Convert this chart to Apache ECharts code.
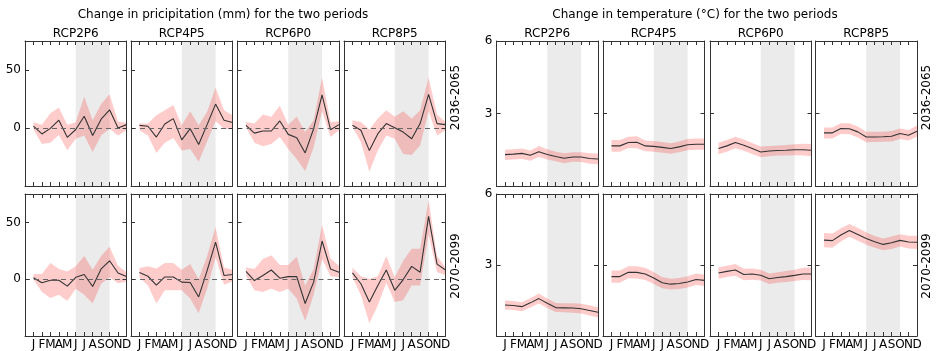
<!DOCTYPE html>
<html>
<head>
<meta charset="utf-8">
<script src="https://cdn.jsdelivr.net/npm/echarts@6/dist/echarts.min.js"></script>
<style>
  html, body { margin: 0; padding: 0; background: #fff; }
  #container { width: 937px; height: 351px; }
</style>
</head>
<body>
<div id="container"></div>
<script>
// month letters on the x axis, scenario names, periods
let monthLabels = ['J', 'F', 'M', 'A', 'M', 'J', 'J', 'A', 'S', 'O', 'N', 'D'];
let scenarios = ['RCP2P6', 'RCP4P5', 'RCP6P0', 'RCP8P5'];
let periods = ['2036-2065', '2070-2099'];
// months shaded in grey (Jun..Oct)
let shadeFrom = 6, shadeTo = 10;

// precipitation change (mm), one row per scenario
let prMean2036 = [
    [1.7, -5.1, -0.3, 6.7, -8.0, -1.3, 10.1, -6.4, 7.6, 15.7, 0, 2.9],
    [2.3, 1.5, -7.8, 3.5, 8.1, -10.2, -0.6, -14.2, 2.9, 20.6, 6.7, 4.7],
    [2.3, -4.4, -2.6, -2.6, 6.1, -5.5, -8.4, -21.5, -0.6, 28.5, -1.5, 2.9],
    [2.3, -2, -19.5, -4.9, 3.8, 0.3, -3.5, -9.3, 3.8, 29, 3.8, 2.9]
];
let prHi2036 = [
    [4.9, 2.9, 12.8, 17.6, 2.9, 4.9, 27, 6.7, 20.6, 29, 5.5, 4.5],
    [3.8, 3.8, 11, 15.4, 19.8, 2.3, 14.5, 2.3, 14, 34.9, 15.4, 11],
    [5.2, 3.8, 11.6, 9.6, 19.2, 2.9, 9.6, -3.5, 6.7, 43.6, 5.2, 5.8],
    [6.7, 5.2, -1.2, 8.1, 15.4, 9.6, 14.5, 8.1, 15.4, 43.6, 11.6, 5.2]
];
let prLo2036 = [
    [-1.2, -13.7, -12.8, -6.0, -19.2, -9.3, -6.4, -20.6, -6.4, -0.6, -6.5, -2.0],
    [-2, -6.4, -21.5, -12.8, -8.7, -19.5, -18, -29, -11.6, 5.8, -0.6, -0.6],
    [0.9, -12.8, -15.7, -13.7, -7.8, -18, -26.7, -37.2, -16.6, 14.5, -7.8, -2],
    [0.9, -12.2, -37.8, -19.5, -6.4, -9.3, -22.4, -23.3, -15.1, 14.5, -6.4, -2]
];
let prMean2070 = [
    [1.2, -3.2, -0.9, -0.9, -6.1, 1.7, 4.1, -6.4, 9, 16.2, 5.5, 2.3],
    [5.8, 2.6, -5.2, 2, 2, -2.6, -2.9, -15.6, 7.5, 32.7, 3.2, 4.1],
    [6.9, -1.2, 3.2, 8.1, 0.9, 2.3, 2.3, -21.4, -2.6, 33.6, 9, 6.1],
    [5.5, -4, -20, -5.5, 8.1, -9.8, -0.3, 11.3, 6.1, 55.3, 13.3, 8.1]
];
let prHi2070 = [
    [4.6, 4.6, 14.2, 9, 6.7, 11.3, 20.5, 8.4, 20.5, 28.6, 11.9, 6.1],
    [9.8, 11.3, 9.5, 14.2, 14.2, 8.4, 13.3, 0, 20.5, 46, 10.4, 8.4],
    [10.4, 9, 17.7, 21.1, 12.4, 12.4, 19.7, -5.5, 9, 48, 18.2, 11.9],
    [10.1, 2.6, 0.3, 2.6, 20.5, 1.7, 16.2, 26.9, 26.9, 69.7, 20.5, 10.4]
];
let prLo2070 = [
    [-0.3, -11.3, -16.5, -13.6, -19.1, -8.4, -13.6, -21.4, -4.1, 1.7, -3.5, -2],
    [1.7, -5.5, -21.4, -9.8, -9.8, -9.8, -17, -30, -8.4, 19.1, -4.9, -2],
    [3.2, -9.8, -11.3, -8.4, -11.3, -8.4, -17, -36.7, -13.6, 17.7, 2.6, 1.7],
    [1.7, -14.2, -38.8, -22.9, -3.2, -20, -18.5, -5.5, -5.5, 39.4, 6.1, 3.8]
];

// temperature change (degC)
let tMean2036 = [
    [1.30, 1.32, 1.35, 1.27, 1.42, 1.30, 1.22, 1.15, 1.20, 1.20, 1.14, 1.12],
    [1.66, 1.66, 1.80, 1.81, 1.66, 1.64, 1.60, 1.55, 1.62, 1.71, 1.73, 1.73],
    [1.55, 1.66, 1.80, 1.69, 1.55, 1.41, 1.45, 1.47, 1.48, 1.50, 1.50, 1.48],
    [2.20, 2.20, 2.38, 2.37, 2.24, 2.03, 2.03, 2.04, 2.06, 2.17, 2.10, 2.27]
];
let tHi2036 = [
    [1.50, 1.52, 1.55, 1.47, 1.66, 1.52, 1.42, 1.36, 1.40, 1.40, 1.36, 1.34],
    [1.90, 1.90, 2.04, 2.06, 1.88, 1.86, 1.82, 1.77, 1.84, 1.94, 1.97, 1.97],
    [1.79, 1.90, 2.04, 1.92, 1.78, 1.63, 1.66, 1.68, 1.70, 1.73, 1.75, 1.74],
    [2.42, 2.42, 2.60, 2.60, 2.46, 2.25, 2.24, 2.25, 2.28, 2.38, 2.32, 2.50]
];
let tLo2036 = [
    [1.08, 1.10, 1.12, 1.04, 1.20, 1.10, 1.02, 0.94, 1.00, 0.99, 0.92, 0.90],
    [1.42, 1.42, 1.57, 1.56, 1.44, 1.42, 1.38, 1.33, 1.40, 1.48, 1.50, 1.50],
    [1.31, 1.42, 1.56, 1.46, 1.32, 1.19, 1.23, 1.26, 1.26, 1.27, 1.26, 1.23],
    [1.97, 1.97, 2.15, 2.14, 2.01, 1.81, 1.82, 1.83, 1.84, 1.95, 1.88, 2.04]
];
let tMean2070 = [
    [1.31, 1.29, 1.24, 1.40, 1.58, 1.38, 1.20, 1.19, 1.18, 1.15, 1.08, 1.00],
    [2.51, 2.51, 2.69, 2.69, 2.62, 2.45, 2.25, 2.19, 2.22, 2.28, 2.39, 2.35],
    [2.66, 2.73, 2.79, 2.60, 2.62, 2.57, 2.42, 2.47, 2.51, 2.56, 2.62, 2.62],
    [4.05, 4.03, 4.27, 4.46, 4.29, 4.12, 3.98, 3.87, 3.94, 4.04, 3.97, 3.96]
];
let tHi2070 = [
    [1.50, 1.48, 1.43, 1.60, 1.80, 1.58, 1.39, 1.38, 1.38, 1.36, 1.30, 1.22],
    [2.77, 2.77, 2.95, 2.95, 2.88, 2.70, 2.49, 2.42, 2.45, 2.52, 2.64, 2.60],
    [2.90, 2.97, 3.04, 2.84, 2.85, 2.80, 2.64, 2.69, 2.75, 2.80, 2.88, 2.89],
    [4.35, 4.33, 4.55, 4.73, 4.56, 4.38, 4.23, 4.12, 4.20, 4.30, 4.24, 4.24]
];
let tLo2070 = [
    [1.12, 1.10, 1.05, 1.20, 1.37, 1.18, 1.01, 1.00, 0.98, 0.95, 0.87, 0.78],
    [2.25, 2.25, 2.44, 2.43, 2.37, 2.20, 2.02, 1.96, 1.99, 2.05, 2.15, 2.11],
    [2.42, 2.49, 2.55, 2.36, 2.38, 2.34, 2.20, 2.25, 2.28, 2.32, 2.37, 2.36],
    [3.75, 3.73, 3.99, 4.19, 4.02, 3.86, 3.73, 3.62, 3.68, 3.78, 3.70, 3.68]
];

let dom = document.getElementById("container");
let myChart = echarts.init(dom);

let font = 'DejaVu Sans';
let edge = '#333';

// two blocks of 4x2 panels
let blocks = [{
    title: 'Change in pricipitation (mm) for the two periods',
    titleX: 223,
    lefts: [25, 131, 237.5, 344],
    labelX: 456,
    y: { min: -50, max: 75, interval: 50, shown: [0, 50] },
    zeroLine: true,
    mean: [prMean2036, prMean2070], hi: [prHi2036, prHi2070], lo: [prLo2036, prLo2070]
}, {
    title: 'Change in temperature (\u00B0C) for the two periods',
    titleX: 695,
    lefts: [496.5, 603, 710, 815.5],
    labelX: 926.5,
    y: { min: 0, max: 6, interval: 3, shown: [3, 6] },
    zeroLine: false,
    mean: [tMean2036, tMean2070], hi: [tHi2036, tHi2070], lo: [tLo2036, tLo2070]
}];
let panelW = 101.5;
let rowTops = [41, 194];
let rowHeights = [145, 144];
let rowLabelY = [97.5, 266];

let grids = [], xAxes = [], yAxes = [], series = [], graphics = [];

function pairs(arr) {
    return arr.map(function (v, i) { return [i + 1, v]; });
}

// band polygon: upper edge left->right then lower edge back
function bandRenderer(lo, hi) {
    return function (params, api) {
        if (params.dataIndex !== 0) return;
        let pts = [];
        for (let i = 0; i < hi.length; i++) pts.push(api.coord([i + 1, hi[i]]));
        for (let i = lo.length - 1; i >= 0; i--) pts.push(api.coord([i + 1, lo[i]]));
        return {
            type: 'polygon',
            shape: { points: pts },
            style: { fill: 'rgba(255,0,0,0.2)' }
        };
    };
}

blocks.forEach(function (b) {
    graphics.push({
        type: 'text', x: b.titleX, y: 15,
        style: { text: b.title, font: '12px ' + font, fill: '#000', align: 'center', verticalAlign: 'middle' }
    });
    scenarios.forEach(function (name, c) {
        graphics.push({
            type: 'text', x: b.lefts[c] + panelW / 2, y: 33.5,
            style: { text: name, font: '12px ' + font, fill: '#000', align: 'center', verticalAlign: 'middle' }
        });
    });
    periods.forEach(function (p, r) {
        // row label, reads bottom to top
        graphics.push({
            type: 'text', x: b.labelX, y: rowLabelY[r], rotation: Math.PI / 2,
            style: { text: p, font: '12px ' + font, fill: '#000', align: 'center', verticalAlign: 'middle' }
        });
        scenarios.forEach(function (name, c) {
            let gi = grids.length;
            grids.push({ left: b.lefts[c], top: rowTops[r], width: panelW, height: rowHeights[r] });
            // max nudged past 12 so the D label is not treated as the edge label
            let xBase = {
                gridIndex: gi, type: 'value', min: 0, max: 12.0001, interval: 1, z: 10,
                axisLine: { show: true, onZero: false, lineStyle: { color: edge, width: 1 } },
                axisTick: { inside: true, length: 4, lineStyle: { color: edge } },
                splitLine: { show: false }
            };
            xAxes.push(Object.assign({}, xBase, {
                position: 'bottom',
                axisLabel: {
                    show: r === 1, margin: 3, color: '#000', fontSize: 12, fontFamily: font,
                    hideOverlap: false,
                    formatter: function (v) { return Number.isInteger(v) ? (monthLabels[v - 1] || '') : ''; }
                }
            }));
            xAxes.push(Object.assign({}, xBase, { position: 'top', axisLabel: { show: false } }));
            let yBase = {
                gridIndex: gi, type: 'value', min: b.y.min, max: b.y.max, interval: b.y.interval, z: 10,
                axisLine: { show: true, onZero: false, lineStyle: { color: edge, width: 1 } },
                axisTick: { inside: true, length: 4, lineStyle: { color: edge } },
                splitLine: { show: false }
            };
            yAxes.push(Object.assign({}, yBase, {
                position: 'left',
                axisLabel: {
                    show: c === 0, margin: 4, color: '#000', fontSize: 12, fontFamily: font,
                    formatter: function (v) { return b.y.shown.indexOf(v) >= 0 ? String(v) : ''; }
                }
            }));
            yAxes.push(Object.assign({}, yBase, { position: 'right', axisLabel: { show: false } }));

            let lo = b.lo[r][c], hi = b.hi[r][c], mean = b.mean[r][c];
            // invisible helper carrying the grey season
            series.push({
                type: 'line', xAxisIndex: 2 * gi, yAxisIndex: 2 * gi, z: 1,
                data: pairs(lo), symbol: 'none', silent: true, lineStyle: { opacity: 0 },
                markArea: {
                    silent: true, itemStyle: { color: '#ebebeb' },
                    data: [[{ xAxis: shadeFrom }, { xAxis: shadeTo }]]
                }
            });
            // range band
            series.push({
                type: 'custom', xAxisIndex: 2 * gi, yAxisIndex: 2 * gi, z: 2,
                data: lo.map(function (v, i) { return [i + 1, v, hi[i]]; }),
                encode: { x: 0, y: [1, 2] }, clip: true, silent: true,
                renderItem: bandRenderer(lo, hi)
            });
            // mean change
            let meanSeries = {
                type: 'line', xAxisIndex: 2 * gi, yAxisIndex: 2 * gi, z: 3,
                data: pairs(mean), symbol: 'none', silent: true,
                lineStyle: { color: '#333', width: 1.1 }
            };
            if (b.zeroLine) {
                meanSeries.markLine = {
                    silent: true, symbol: ['none', 'none'], label: { show: false },
                    lineStyle: { color: '#666', width: 1, type: [5, 4] },
                    data: [{ yAxis: 0 }]
                };
            }
            series.push(meanSeries);
        });
    });
});

let option = {
    animation: false,
    backgroundColor: '#fff',
    textStyle: { fontFamily: font },
    grid: grids,
    xAxis: xAxes,
    yAxis: yAxes,
    series: series,
    graphic: graphics
};
myChart.setOption(option);
</script>
</body>
</html>
